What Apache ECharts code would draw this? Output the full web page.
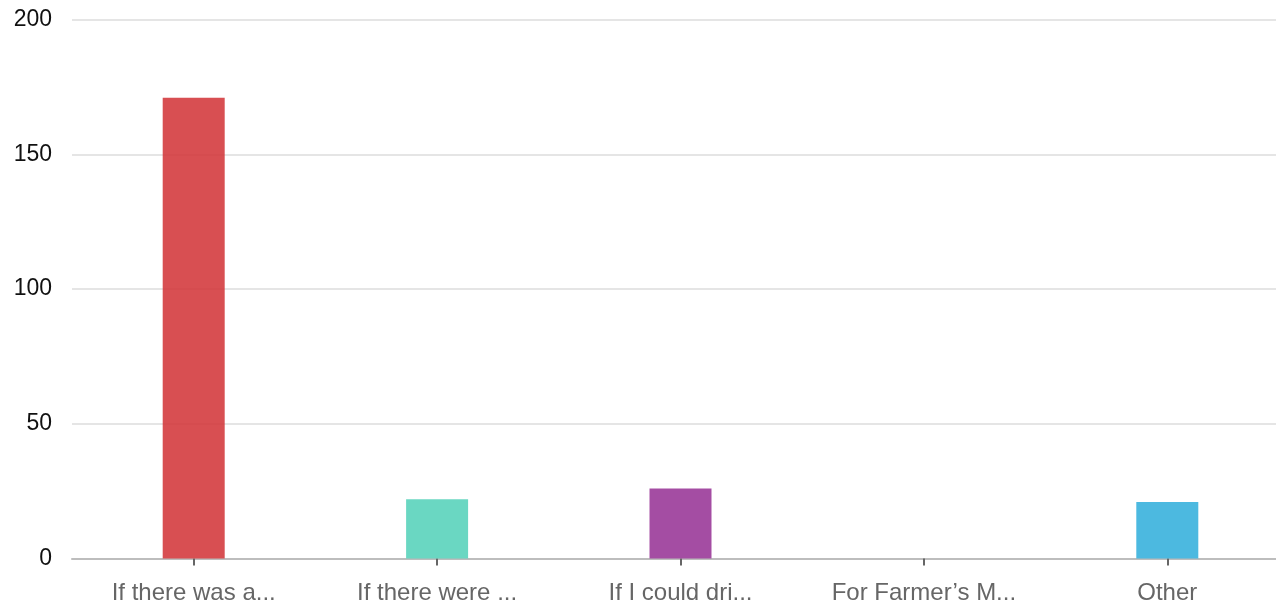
<!DOCTYPE html>
<html>
<head>
<meta charset="utf-8">
<style>
  html, body { margin: 0; padding: 0; background: #fff; }
  #chart { width: 1276px; height: 610px; }
</style>
<script src="https://cdn.jsdelivr.net/npm/echarts@6/dist/echarts.min.js"></script>
</head>
<body>
<div id="chart"></div>
<script>
// 类目和数值
var categories = ['If there was a...', 'If there were ...', 'If I could dri...', 'For Farmer\u2019s M...', 'Other'];
var counts = [171, 22, 26, 0, 21];
var barColors = ['#d43c3f', '#5ad3bb', '#9a3a99', '#38b1dd', '#38b1dd'];
var yTicks = [0, 50, 100, 150, 200];

var myChart = echarts.init(document.getElementById('chart'));

var option = {
    animation: false,
    grid: { left: 72, right: -13, top: 19.5, bottom: 51.5, outerBoundsMode: 'none' },
    xAxis: {
        type: 'category',
        data: categories,
        axisLine: { lineStyle: { color: '#bdbdbd', width: 2 } },
        axisTick: { show: true, alignWithLabel: true, length: 7, lineStyle: { color: '#666', width: 2 } },
        axisLabel: { color: '#666', fontSize: 24, fontFamily: 'Liberation Sans', margin: 23 }
    },
    yAxis: {
        type: 'value',
        min: yTicks[0],
        max: yTicks[yTicks.length - 1],
        interval: 50,
        axisLabel: { color: '#111', fontSize: 23, fontFamily: 'Liberation Sans', margin: 20 },
        splitLine: { lineStyle: { color: '#dcdcdc', width: 1.5 } },
        axisLine: { show: false },
        axisTick: { show: false }
    },
    series: [{
        type: 'bar',
        barWidth: 62,
        data: counts.map(function (v, i) {
            return { value: v, itemStyle: { color: barColors[i], opacity: 0.9 } };
        })
    }]
};

myChart.setOption(option);
</script>
</body>
</html>
